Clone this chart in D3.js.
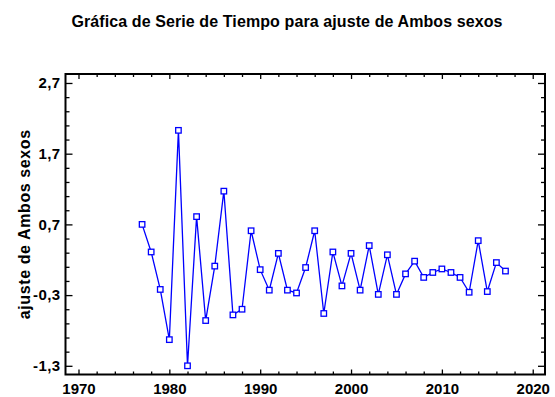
<!DOCTYPE html>
<html>
<head>
<meta charset="utf-8">
<script src="https://cdn.jsdelivr.net/npm/d3@7"></script>
<style>
  html, body { margin: 0; padding: 0; background: #fff; }
  svg { display: block; font-family: "Liberation Sans", Arial, sans-serif; }
  .tick text { font-weight: bold; font-size: 15px; fill: #000; }
  .yaxis .tick text { letter-spacing: 0.4px; }
  .domain { display: none; }
  .tick line { stroke: #000; stroke-width: 1.3; }
</style>
</head>
<body>
<svg id="chart" width="555" height="397"></svg>
<script>
// Yearly series of the "ajuste de Ambos sexos" values
const years = [1977, 1978, 1979, 1980, 1981, 1982, 1983, 1984, 1985, 1986,
               1987, 1988, 1989, 1990, 1991, 1992, 1993, 1994, 1995, 1996,
               1997, 1998, 1999, 2000, 2001, 2002, 2003, 2004, 2005, 2006,
               2007, 2008, 2009, 2010, 2011, 2012, 2013, 2014, 2015, 2016, 2017];
const ajuste = [0.70, 0.31, -0.22, -0.93, 2.03, -1.30, 0.81, -0.66, 0.11, 1.17,
                -0.58, -0.50, 0.61, 0.06, -0.23, 0.29, -0.23, -0.27, 0.09, 0.61,
                -0.56, 0.31, -0.17, 0.29, -0.23, 0.40, -0.29, 0.27, -0.29, 0.00,
                0.18, -0.05, 0.02, 0.07, 0.02, -0.05, -0.26, 0.47, -0.25, 0.16, 0.04];

const xMajorTicks = [1970, 1980, 1990, 2000, 2010, 2020];
const xMinorTicks = d3.range(1970, 2021, 2).filter(v => v % 10 !== 0);
const yMajorTicks = [-1.3, -0.3, 0.7, 1.7, 2.7];
const yMinorTicks = d3.range(-1.3, 2.71, 0.2).map(v => +v.toFixed(1)).filter(v => !yMajorTicks.includes(v));

const titleText = "Gráfica de Serie de Tiempo para ajuste de Ambos sexos";
const yTitleText = "ajuste de Ambos sexos";

const svg = d3.select("#chart");
const plotLeft = 65.5, plotRight = 545, plotTop = 74, plotBottom = 374.5;

const x = d3.scaleLinear().domain([1968.57, 2021.35]).range([plotLeft, plotRight]);
const y = d3.scaleLinear().domain([-1.423, 2.827]).range([plotBottom, plotTop]);

const esLocale = d3.formatLocale({decimal: ",", thousands: ".", grouping: [3], currency: ["", ""], minus: "-"});
const fmtY = esLocale.format(".1f");

// Title
svg.append("text")
  .attr("x", 287).attr("y", 27)
  .attr("text-anchor", "middle")
  .style("font-weight", "bold").style("font-size", "16px")
  .style("letter-spacing", "0.1px")
  .text(titleText);

// Y axis title
svg.append("text")
  .attr("transform", `translate(30,${(plotTop + plotBottom) / 2}) rotate(-90)`)
  .attr("text-anchor", "middle")
  .style("font-weight", "bold").style("font-size", "16px")
  .style("letter-spacing", "0.6px")
  .text(yTitleText);

// Axes with inward ticks on all four sides
svg.append("g").attr("class", "yaxis").attr("transform", `translate(${plotLeft},0)`)
  .call(d3.axisLeft(y).tickValues(yMajorTicks).tickSizeInner(-7).tickSizeOuter(0).tickPadding(5).tickFormat(fmtY));
svg.append("g").attr("transform", `translate(${plotLeft},0)`)
  .call(d3.axisLeft(y).tickValues(yMinorTicks).tickSizeInner(-4).tickSizeOuter(0).tickFormat(""));
svg.append("g").attr("transform", `translate(${plotRight},0)`)
  .call(d3.axisRight(y).tickValues(yMajorTicks).tickSizeInner(-7).tickSizeOuter(0).tickFormat(""));
svg.append("g").attr("transform", `translate(${plotRight},0)`)
  .call(d3.axisRight(y).tickValues(yMinorTicks).tickSizeInner(-4).tickSizeOuter(0).tickFormat(""));

svg.append("g").attr("transform", `translate(0,${plotBottom})`)
  .call(d3.axisBottom(x).tickValues(xMajorTicks).tickSizeInner(-5).tickSizeOuter(0).tickPadding(9).tickFormat(d3.format("d")));
svg.append("g").attr("transform", `translate(0,${plotBottom})`)
  .call(d3.axisBottom(x).tickValues(xMinorTicks).tickSizeInner(-3).tickSizeOuter(0).tickFormat(""));
svg.append("g").attr("transform", `translate(0,${plotTop})`)
  .call(d3.axisTop(x).tickValues(xMajorTicks).tickSizeInner(-5).tickSizeOuter(0).tickFormat(""));
svg.append("g").attr("transform", `translate(0,${plotTop})`)
  .call(d3.axisTop(x).tickValues(xMinorTicks).tickSizeInner(-3).tickSizeOuter(0).tickFormat(""));

// Plot frame
svg.append("rect")
  .attr("x", plotLeft).attr("y", plotTop)
  .attr("width", plotRight - plotLeft).attr("height", plotBottom - plotTop)
  .attr("fill", "none").attr("stroke", "#000").attr("stroke-width", 2);

const data = years.map((yr, i) => ({yr, v: ajuste[i]}));

// Series line
svg.append("path")
  .datum(data)
  .attr("fill", "none")
  .attr("stroke", "#0000ff")
  .attr("stroke-width", 1.3)
  .attr("d", d3.line().x(d => x(d.yr)).y(d => y(d.v)));

// Square markers
const sz = 5.5;
svg.append("g").selectAll("rect")
  .data(data)
  .join("rect")
  .attr("x", d => x(d.yr) - sz / 2)
  .attr("y", d => y(d.v) - sz / 2)
  .attr("width", sz).attr("height", sz)
  .attr("fill", "#fff")
  .attr("stroke", "#0000ff")
  .attr("stroke-width", 1.3);
</script>
</body>
</html>
